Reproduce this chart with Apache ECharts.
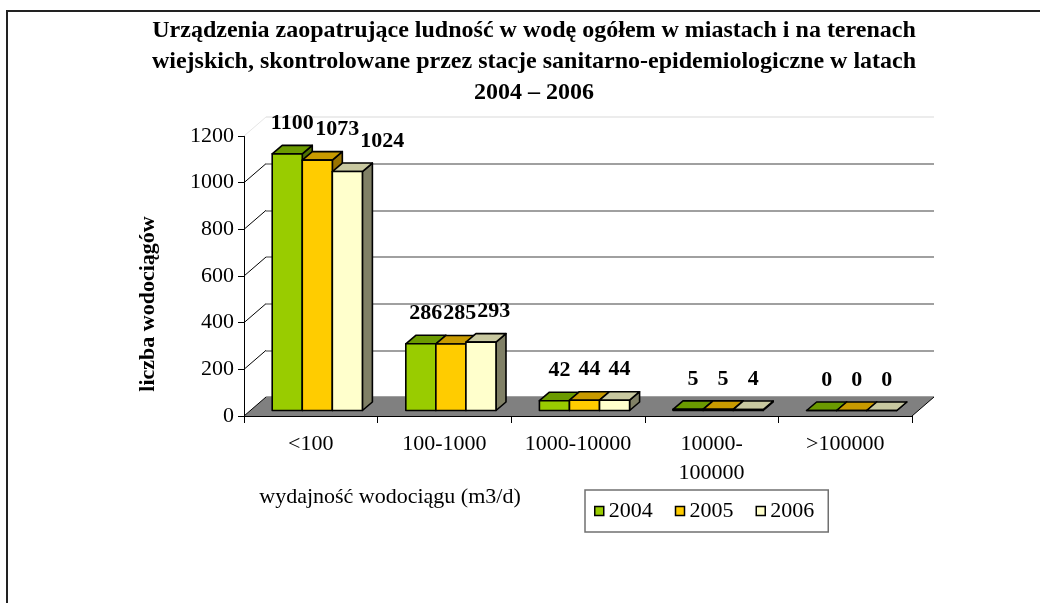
<!DOCTYPE html>
<html>
<head>
<meta charset="utf-8">
<title>Urządzenia zaopatrujące ludność w wodę</title>
<script src="https://cdn.jsdelivr.net/npm/echarts@6/dist/echarts.min.js"></script>
<style>
  html, body { margin: 0; padding: 0; background: #fff; }
  #myChart { width: 1040px; height: 603px; }
</style>
</head>
<body>
<div id="myChart"></div>
<script>
var categories = ['<100', '100-1000', '1000-10000', '10000-\n100000', '>100000'];
var years = ['2004', '2005', '2006'];
var values2004 = [1100, 286, 42, 5, 0];
var values2005 = [1073, 285, 44, 5, 0];
var values2006 = [1024, 293, 44, 4, 0];
var yTicks = [0, 200, 400, 600, 800, 1000, 1200];

var serif = '"Liberation Serif", "Times New Roman", serif';
// przesuniecie tylnej sciany (efekt 3D)
var backDx = 22, backDy = -19;
// glebokosc slupka
var barDx = 10, barDy = -8.5;

// kolory: przod, gora, bok
var palette = [
  ['#99cc00', '#6b9a00', '#4f7300'],
  ['#ffcc00', '#c89a00', '#997300'],
  ['#ffffcc', '#c8c8a0', '#808066']
];

// geometria slupka s-tej serii w kategorii idx
function barGeom(api, idx, v, s) {
  var top = api.coord([idx, v]);
  var base = api.coord([idx, 0]);
  var w = api.size([1, 0])[0] * 0.225;
  var xl = base[0] - 1.5 * w + s * w + 6.5;
  return { xl: xl, xr: xl + w, w: w, yt: top[1] - 5.5, yb: base[1] - 5.5 };
}

function barRenderer(s) {
  var colors = palette[s];
  return function (params, api) {
    var g = barGeom(api, api.value(0), api.value(1), s);
    var edge = { stroke: '#000', lineWidth: 1.6, lineJoin: 'round' };
    return {
      type: 'group',
      children: [
        {
          type: 'polygon',
          shape: { points: [[g.xr, g.yb], [g.xr + barDx, g.yb + barDy], [g.xr + barDx, g.yt + barDy], [g.xr, g.yt]] },
          style: Object.assign({ fill: colors[2] }, edge)
        },
        {
          type: 'polygon',
          shape: { points: [[g.xl, g.yt], [g.xr, g.yt], [g.xr + barDx, g.yt + barDy], [g.xl + barDx, g.yt + barDy]] },
          style: Object.assign({ fill: colors[1] }, edge)
        },
        {
          type: 'rect',
          shape: { x: g.xl, y: g.yt, width: g.w, height: g.yb - g.yt },
          style: Object.assign({ fill: colors[0] }, edge)
        }
      ]
    };
  };
}

// etykiety wartosci - przesuwane w prawo, zeby na siebie nie nachodzily
function labelRenderer(params, api) {
  var idx = api.value(0);
  var children = [];
  var prevRight = -Infinity;
  for (var s = 0; s < years.length; s++) {
    var v = api.value(1 + s);
    var g = barGeom(api, idx, v, s);
    var txt = String(v);
    var half = txt.length * 11 / 2;
    var x = Math.max(g.xl + g.w / 2 + 5, prevRight + 1 + half);
    prevRight = x + half;
    children.push({
      type: 'text',
      x: x,
      y: g.yt + barDy - 22,
      style: {
        text: txt,
        font: 'bold 22px ' + serif,
        fill: '#000',
        align: 'center',
        verticalAlign: 'middle'
      }
    });
  }
  return { type: 'group', children: children };
}

function floorRenderer(params, api) {
  var cs = params.coordSys;
  var y0 = api.coord([0, 0])[1];
  var x1 = cs.x, x2 = cs.x + cs.width;
  return {
    type: 'group',
    children: [
      {
        type: 'polygon',
        shape: { points: [[x1, y0], [x2, y0], [x2 + backDx, y0 + backDy], [x1 + backDx, y0 + backDy]] },
        style: { fill: '#808080' }
      },
      {
        type: 'line',
        shape: { x1: x2, y1: y0, x2: x2 + backDx, y2: y0 + backDy },
        style: { stroke: '#000', lineWidth: 1 }
      }
    ]
  };
}

function diagRenderer(params, api) {
  var cs = params.coordSys;
  var v = api.value(1);
  var y = api.coord([0, v])[1];
  return {
    type: 'line',
    shape: { x1: cs.x, y1: y, x2: cs.x + backDx, y2: y + backDy },
    style: { stroke: v === 1200 ? '#e6e6e6' : '#000', lineWidth: 1 }
  };
}

var myChart = echarts.init(document.getElementById('myChart'));

var option = {
  backgroundColor: '#fff',
  animation: false,
  title: {
    text: 'Urządzenia zaopatrujące ludność w wodę ogółem w miastach i na terenach\n' +
      'wiejskich, skontrolowane przez stacje sanitarno-epidemiologiczne w latach\n' +
      '2004 – 2006',
    left: 534,
    top: 15,
    padding: 0,
    textAlign: 'center',
    textStyle: {
      fontFamily: serif,
      fontWeight: 'bold',
      fontSize: 24,
      lineHeight: 31,
      color: '#000'
    }
  },
  legend: {
    data: years,
    selectedMode: false,
    left: 585,
    top: 490,
    padding: [10, 14, 10, 9],
    itemGap: 22,
    itemWidth: 9,
    itemHeight: 9,
    icon: 'rect',
    borderColor: '#707070',
    borderWidth: 1.5,
    itemStyle: { borderColor: '#000', borderWidth: 1.5 },
    textStyle: { fontFamily: serif, fontSize: 22, color: '#000' }
  },
  grid: [
    { left: 244, right: 128, top: 136, bottom: 187 },
    { left: 244 + backDx, right: 128 - backDx, top: 136 + backDy, bottom: 187 - backDy }
  ],
  xAxis: [
    {
      type: 'category',
      gridIndex: 0,
      data: categories,
      axisLine: { lineStyle: { color: '#000', width: 1 } },
      axisTick: { show: true, length: 7, lineStyle: { color: '#000' } },
      axisLabel: {
        interval: 0,
        margin: 14,
        color: '#000',
        fontFamily: serif,
        fontSize: 22,
        lineHeight: 29
      },
      splitLine: { show: false }
    },
    {
      type: 'category',
      gridIndex: 1,
      data: categories,
      show: false
    }
  ],
  yAxis: [
    {
      type: 'value',
      gridIndex: 0,
      min: 0,
      max: 1200,
      interval: 200,
      axisLine: { show: true, lineStyle: { color: '#000', width: 1 } },
      axisTick: { show: true, length: 6, lineStyle: { color: '#000' } },
      axisLabel: {
        margin: 10,
        color: '#000',
        fontFamily: serif,
        fontSize: 22,
        formatter: function (v) { return String(v); }
      },
      splitLine: { show: false }
    },
    {
      type: 'value',
      gridIndex: 1,
      min: 0,
      max: 1200,
      interval: 200,
      axisLine: { show: false },
      axisTick: { show: false },
      axisLabel: { show: false },
      splitLine: {
        show: true,
        lineStyle: {
          color: ['#808080', '#808080', '#808080', '#808080', '#808080', '#808080', '#e6e6e6'],
          width: 1.5
        }
      }
    }
  ],
  graphic: [
    {
      type: 'rect',
      shape: { x: 7, y: 11, width: 1200, height: 800 },
      style: { fill: 'none', stroke: '#222', lineWidth: 2 },
      silent: true
    },
    {
      type: 'text',
      x: 148,
      y: 304,
      rotation: Math.PI / 2,
      style: {
        text: 'liczba wodociągów',
        font: 'bold 22px ' + serif,
        fill: '#000',
        align: 'center',
        verticalAlign: 'middle'
      }
    },
    {
      type: 'text',
      x: 390,
      y: 497,
      style: {
        text: 'wydajność wodociągu (m3/d)',
        font: '22px ' + serif,
        fill: '#000',
        align: 'center',
        verticalAlign: 'middle'
      }
    }
  ],
  series: [
    {
      type: 'custom',
      name: 'podloga',
      xAxisIndex: 0,
      yAxisIndex: 0,
      silent: true,
      z: 1,
      renderItem: floorRenderer,
      data: [[0, 0]]
    },
    {
      type: 'custom',
      name: 'linie',
      xAxisIndex: 0,
      yAxisIndex: 0,
      silent: true,
      z: 1,
      renderItem: diagRenderer,
      data: yTicks.map(function (v) { return [0, v]; })
    },
    {
      type: 'custom',
      name: years[0],
      xAxisIndex: 0,
      yAxisIndex: 0,
      itemStyle: { color: palette[0][0] },
      renderItem: barRenderer(0),
      encode: { x: 0, y: 1 },
      data: values2004.map(function (v, i) { return [i, v]; })
    },
    {
      type: 'custom',
      name: years[1],
      xAxisIndex: 0,
      yAxisIndex: 0,
      itemStyle: { color: palette[1][0] },
      renderItem: barRenderer(1),
      encode: { x: 0, y: 1 },
      data: values2005.map(function (v, i) { return [i, v]; })
    },
    {
      type: 'custom',
      name: years[2],
      xAxisIndex: 0,
      yAxisIndex: 0,
      itemStyle: { color: palette[2][0] },
      renderItem: barRenderer(2),
      encode: { x: 0, y: 1 },
      data: values2006.map(function (v, i) { return [i, v]; })
    },
    {
      type: 'custom',
      name: 'etykiety',
      xAxisIndex: 0,
      yAxisIndex: 0,
      silent: true,
      z: 5,
      renderItem: labelRenderer,
      encode: { x: 0, y: [1, 2, 3] },
      data: categories.map(function (c, i) {
        return [i, values2004[i], values2005[i], values2006[i]];
      })
    }
  ]
};

myChart.setOption(option);
</script>
</body>
</html>
